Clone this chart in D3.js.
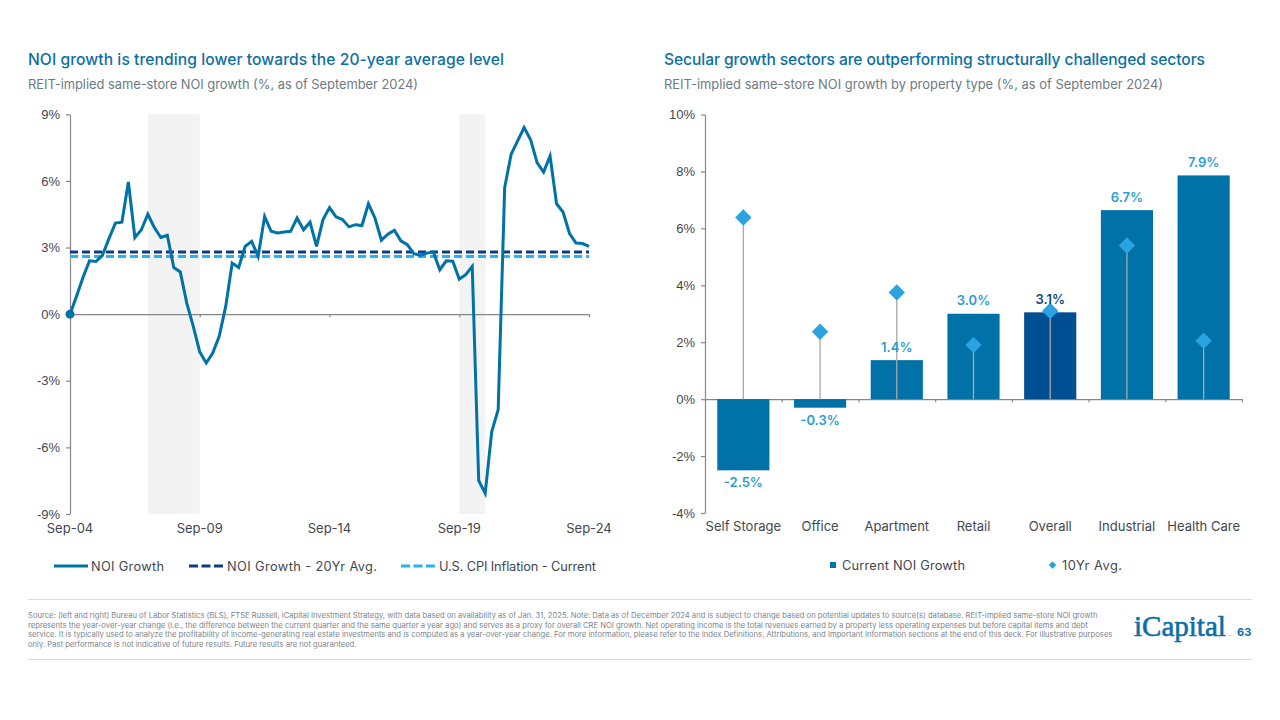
<!DOCTYPE html>
<html>
<head>
<meta charset="utf-8">
<script src="https://cdn.jsdelivr.net/npm/d3@7"></script>
<style>
html, body { margin: 0; padding: 0; background: #fff; }
svg { display: block; font-family: Inter, "Open Sans", sans-serif; }
.axis text { font-size: 13px; fill: #3f4750; }
.axis path, .axis line { stroke: #85888b; stroke-width: 1.2; }
.title { font-size: 15.6px; font-weight: 500; fill: #0b6fa4; }
.sub { font-size: 12.9px; fill: #6d7b86; }
.legend { font-size: 12.8px; fill: #3f4750; }
.note { font-size: 7.65px; fill: #7c868e; }
.val { font-size: 13px; font-weight: 600; text-anchor: middle; }
</style>
</head>
<body>
<div id="chart"></div>
<script>
// left chart: quarterly, Sep-04 to Sep-24
var noiGrowth = [0, 0.8, 1.65, 2.4, 2.37, 2.65, 3.4, 4.1, 4.14, 5.95, 3.45, 3.8, 4.5, 3.9, 3.45, 3.55,
  2.1, 1.9, 0.5, -0.55, -1.7, -2.2, -1.75, -1.0, 0.35, 2.3, 2.1, 3.05, 3.28, 2.6, 4.4, 3.73, 3.66, 3.7,
  3.73, 4.33, 3.8, 4.14, 3.05, 4.26, 4.8, 4.38, 4.26, 3.93, 4.03, 3.99, 4.97, 4.33, 3.33, 3.6, 3.78, 3.3,
  3.13, 2.72, 2.65, 2.75, 2.8, 2.0, 2.4, 2.38, 1.58, 1.78, 2.15, -7.5, -8.07, -5.3, -4.3, 5.7, 7.2, 7.8,
  8.4, 7.85, 6.82, 6.4, 7.12, 4.97, 4.6, 3.63, 3.2, 3.18, 3.05];
var noiAvg = 2.8;
var cpiCurrent = 2.6;
var recessions = [[12, 20], [60, 64]];
var dateTicks = [0, 20, 40, 60, 80];
var dateLabels = ["Sep-04", "Sep-09", "Sep-14", "Sep-19", "Sep-24"];
var leftTicks = [-9, -6, -3, 0, 3, 6, 9];

// right chart
var sectors = ["Self Storage", "Office", "Apartment", "Retail", "Overall", "Industrial", "Health Care"];
var currentNoi = [-2.5, -0.3, 1.37, 3.0, 3.05, 6.64, 7.86];
var currentLabels = ["-2.5%", "-0.3%", "1.4%", "3.0%", "3.1%", "6.7%", "7.9%"];
var tenYrAvg = [6.38, 2.37, 3.75, 1.9, 3.1, 5.4, 2.05];
var rightTicks = [-4, -2, 0, 2, 4, 6, 8, 10];

var sourceLines = [
  "Source: (left and right) Bureau of Labor Statistics (BLS), FTSE Russell, iCapital Investment Strategy, with data based on availability as of Jan. 31, 2025. Note: Data as of December 2024 and is subject to change based on potential updates to source(s) database. REIT-implied same-store NOI growth",
  "represents the year-over-year change (i.e., the difference between the current quarter and the same quarter a year ago) and serves as a proxy for overall CRE NOI growth. Net operating income is the total revenues earned by a property less operating expenses but before capital items and debt",
  "service. It is typically used to analyze the profitability of income-generating real estate investments and is computed as a year-over-year change. For more information, please refer to the Index Definitions, Attributions, and Important Information sections at the end of this deck. For illustrative purposes",
  "only. Past performance is not indicative of future results. Future results are not guaranteed."
];

var blue = "#0072a7", navy = "#0a3d82", sky = "#2ab2f0", labelBlue = "#2a9dd8";

var svg = d3.select("#chart").append("svg").attr("width", 1280).attr("height", 720);

function heading(cls, x, y, len, txt) {
  svg.append("text").attr("class", cls).attr("x", x).attr("y", y)
    .attr("textLength", len).attr("lengthAdjust", "spacing").text(txt);
}
heading("title", 28, 64.5, 476, "NOI growth is trending lower towards the 20-year average level");
heading("sub", 28, 89, 390, "REIT-implied same-store NOI growth (%, as of September 2024)");
heading("title", 664, 64.5, 541, "Secular growth sectors are outperforming structurally challenged sectors");
heading("sub", 664, 89, 499, "REIT-implied same-store NOI growth by property type (%, as of September 2024)");

// left
var xL = d3.scaleLinear().domain([0, 80]).range([70, 589]);
var yL = d3.scaleLinear().domain([-9, 9]).range([514, 114.3]);

svg.selectAll("rect.band").data(recessions).join("rect").attr("class", "band")
  .attr("x", function (d) { return xL(d[0]); })
  .attr("width", function (d) { return xL(d[1]) - xL(d[0]); })
  .attr("y", yL(9)).attr("height", yL(-9) - yL(9))
  .attr("fill", "#f3f3f3");

svg.append("g").attr("class", "axis").attr("transform", "translate(0," + yL(0) + ")")
  .call(d3.axisBottom(xL).tickValues(dateTicks).tickFormat("").tickSize(3).tickSizeOuter(0));
svg.append("g").attr("class", "axis").attr("transform", "translate(" + xL(0) + ",0)")
  .call(d3.axisLeft(yL).tickValues(leftTicks).tickFormat(function (d) { return d + "%"; }).tickSize(4).tickPadding(6).tickSizeOuter(0));

svg.selectAll("text.dateLabel").data(dateTicks).join("text").attr("class", "dateLabel")
  .attr("x", function (d) { return xL(d); })
  .attr("y", 533).attr("text-anchor", "middle").attr("font-size", 13).attr("fill", "#3f4750")
  .text(function (d, i) { return dateLabels[i]; });

svg.append("line").attr("x1", xL(0)).attr("x2", xL(80)).attr("y1", yL(noiAvg)).attr("y2", yL(noiAvg))
  .attr("stroke", navy).attr("stroke-width", 3).attr("stroke-dasharray", "8 4");
svg.append("line").attr("x1", xL(0)).attr("x2", xL(80)).attr("y1", yL(cpiCurrent)).attr("y2", yL(cpiCurrent))
  .attr("stroke", sky).attr("stroke-width", 3).attr("stroke-dasharray", "8 4");

var line = d3.line().x(function (d, i) { return xL(i); }).y(function (d) { return yL(d); });
svg.append("path").datum(noiGrowth).attr("d", line).attr("fill", "none")
  .attr("stroke", blue).attr("stroke-width", 3).attr("stroke-linejoin", "miter");
svg.append("circle").attr("cx", xL(0)).attr("cy", yL(noiGrowth[0])).attr("r", 4.5).attr("fill", blue);

// left legend
var legL = [
  { x: 54, tx: 91, len: 73, label: "NOI Growth", c: blue, dash: null },
  { x: 189, tx: 227, len: 150, label: "NOI Growth - 20Yr Avg.", c: navy, dash: "9 3.5" },
  { x: 401, tx: 439, len: 157, label: "U.S. CPI Inflation - Current", c: sky, dash: "9 3.5" }
];
legL.forEach(function (d) {
  svg.append("line").attr("x1", d.x).attr("x2", d.x + 34).attr("y1", 566).attr("y2", 566)
    .attr("stroke", d.c).attr("stroke-width", 3).attr("stroke-dasharray", d.dash);
  svg.append("text").attr("class", "legend").attr("x", d.tx).attr("y", 570.5)
    .attr("textLength", d.len).text(d.label);
});

// right
var xR = d3.scaleBand().domain(sectors).range([705, 1242]).paddingInner(0.32).paddingOuter(0.16);
var yR = d3.scaleLinear().domain([-4, 10]).range([513, 114.5]);

svg.append("g").attr("class", "axis").attr("transform", "translate(705,0)")
  .call(d3.axisLeft(yR).tickValues(rightTicks).tickFormat(function (d) { return d + "%"; }).tickSize(4).tickPadding(6).tickSizeOuter(0));
svg.append("g").attr("class", "axis").attr("transform", "translate(0," + yR(0) + ")")
  .call(d3.axisBottom(d3.scaleLinear().domain([0, 7]).range([705, 1242])).ticks(7).tickFormat("").tickSize(3).tickSizeOuter(0));

svg.selectAll("rect.bar").data(sectors).join("rect").attr("class", "bar")
  .attr("x", function (d) { return xR(d); })
  .attr("width", xR.bandwidth())
  .attr("y", function (d, i) { return yR(Math.max(0, currentNoi[i])); })
  .attr("height", function (d, i) { return Math.abs(yR(currentNoi[i]) - yR(0)); })
  .attr("fill", function (d) { return d === "Overall" ? "#004f93" : blue; });

svg.selectAll("line.stem").data(sectors).join("line").attr("class", "stem")
  .attr("x1", function (d) { return xR(d) + xR.bandwidth() / 2; })
  .attr("x2", function (d) { return xR(d) + xR.bandwidth() / 2; })
  .attr("y1", yR(0))
  .attr("y2", function (d, i) { return yR(tenYrAvg[i]); })
  .attr("stroke", "#a9a9a9").attr("stroke-width", 1.3);

var diamond = d3.symbol().type(d3.symbolSquare).size(135);
svg.selectAll("path.avg").data(sectors).join("path").attr("class", "avg")
  .attr("d", diamond)
  .attr("transform", function (d, i) { return "translate(" + (xR(d) + xR.bandwidth() / 2) + "," + yR(tenYrAvg[i]) + ") rotate(45)"; })
  .attr("fill", "#2ba3e0");

svg.selectAll("text.val").data(sectors).join("text").attr("class", "val")
  .attr("x", function (d) { return xR(d) + xR.bandwidth() / 2; })
  .attr("y", function (d, i) { return currentNoi[i] < 0 ? yR(currentNoi[i]) + 17 : yR(currentNoi[i]) - 8.5; })
  .attr("fill", function (d) { return d === "Overall" ? "#0a4a7e" : labelBlue; })
  .text(function (d, i) { return currentLabels[i]; });

svg.selectAll("text.cat").data(sectors).join("text").attr("class", "cat")
  .attr("x", function (d) { return xR(d) + xR.bandwidth() / 2; })
  .attr("y", 531).attr("text-anchor", "middle").attr("font-size", 13).attr("fill", "#3f4750")
  .text(function (d) { return d; });

// right legend
svg.append("rect").attr("x", 830).attr("y", 562).attr("width", 6).attr("height", 6).attr("fill", blue);
svg.append("text").attr("class", "legend").attr("x", 842).attr("y", 569.5).attr("textLength", 123).text("Current NOI Growth");
svg.append("path").attr("d", d3.symbol().type(d3.symbolSquare).size(30))
  .attr("transform", "translate(1052.5,565) rotate(45)").attr("fill", "#2ba3e0");
svg.append("text").attr("class", "legend").attr("x", 1062).attr("y", 569.5).attr("textLength", 60).text("10Yr Avg.");

// footer
svg.append("line").attr("x1", 28).attr("x2", 1252).attr("y1", 599.5).attr("y2", 599.5).attr("stroke", "#d5dbe0").attr("stroke-width", 1.2);
svg.append("line").attr("x1", 28).attr("x2", 1252).attr("y1", 659.5).attr("y2", 659.5).attr("stroke", "#d5dbe0").attr("stroke-width", 1.2);
svg.selectAll("text.note").data(sourceLines).join("text").attr("class", "note")
  .attr("x", 28).attr("y", function (d, i) { return 618 + i * 9.5; })
  .text(function (d) { return d; });
svg.append("text").attr("x", 1134).attr("y", 636).attr("font-family", "Liberation Serif").attr("font-size", 29)
  .attr("fill", "#0b6fa4").attr("stroke", "#0b6fa4").attr("stroke-width", 0.6).text("iCapital");
svg.append("text").attr("x", 1229).attr("y", 636).attr("font-size", 6).attr("font-weight", 700).attr("fill", "#0b6fa4").text(".");
svg.append("text").attr("x", 1237).attr("y", 636).attr("font-size", 11).attr("font-weight", 700).attr("fill", "#0b6fa4").text("63");
</script>
</body>
</html>
